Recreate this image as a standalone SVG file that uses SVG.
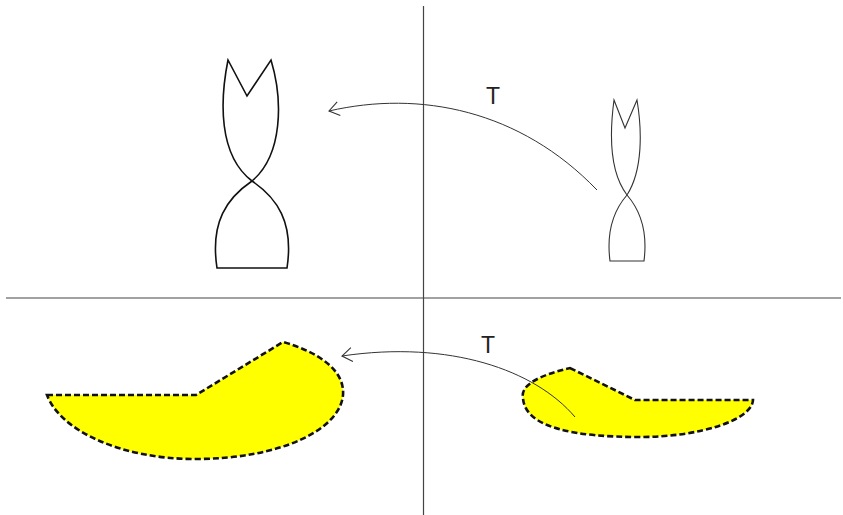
<svg xmlns="http://www.w3.org/2000/svg" width="843" height="515" viewBox="0 0 843 515">
<style>
.axis{stroke:#444;stroke-width:1.2;fill:none}
.outline{fill:none;stroke:#111;stroke-width:1.6;stroke-linejoin:miter}
.outline2{fill:none;stroke:#333;stroke-width:1.1}
.blob{fill:#ffff00;stroke:#111;stroke-width:2.6;stroke-dasharray:6,3}
.conn{fill:none;stroke:#333;stroke-width:1;marker-end:url(#arr)}
.lbl{font-family:"Liberation Sans",Arial,sans-serif;font-size:23px;fill:#222;text-anchor:middle}
</style>
<defs>
<marker id="arr" viewBox="0 0 12 16" refX="11" refY="8" markerWidth="12" markerHeight="16" markerUnits="userSpaceOnUse" orient="auto">
<path d="M1,1 L11,8 L1,15" fill="none" stroke="#333" stroke-width="1.1"/>
</marker>
</defs>
<g id="axes">
<line class="axis" x1="423.5" y1="6" x2="423.5" y2="515"/>
<line class="axis" x1="6" y1="298" x2="841" y2="298"/>
</g>
<g id="shape-top-left">
<path class="outline" d="M228,60 C220,100 218,155 252,181 C277,198 294,222 287,268 L217,268 C210,222 227,198 252,181 C283,155 283,100 271,60 L247,96 Z"/>
</g>
<g id="shape-top-right">
<path class="outline2" d="M614,100 C610,130 608,170 627,195 C640,210 648,230 644,261 L610,261 C606,230 614,210 627,195 C643,170 642,130 637,100 L625,128 Z"/>
</g>
<g id="shape-bottom-left">
<path class="blob" d="M47,395 L196,395 L283,342 C318,352 345,370 343,395 C340,430 280,459 195,459 C120,459 60,430 47,395 Z"/>
</g>
<g id="shape-bottom-right">
<path class="blob" d="M570,368 L635,400 L753,400 C752,420 700,437 640,437 C575,437 525,428 523,398 C520,385 540,375 570,368 Z"/>
</g>
<g id="connectors">
<path class="conn" d="M597,190 C520,110 420,90 329,111"/>
<path class="conn" d="M575,417 C535,370 450,340 342,356"/>
</g>
<g id="labels">
<text class="lbl" x="493" y="104">T</text>
<text class="lbl" x="488" y="352.5">T</text>
</g>
</svg>
